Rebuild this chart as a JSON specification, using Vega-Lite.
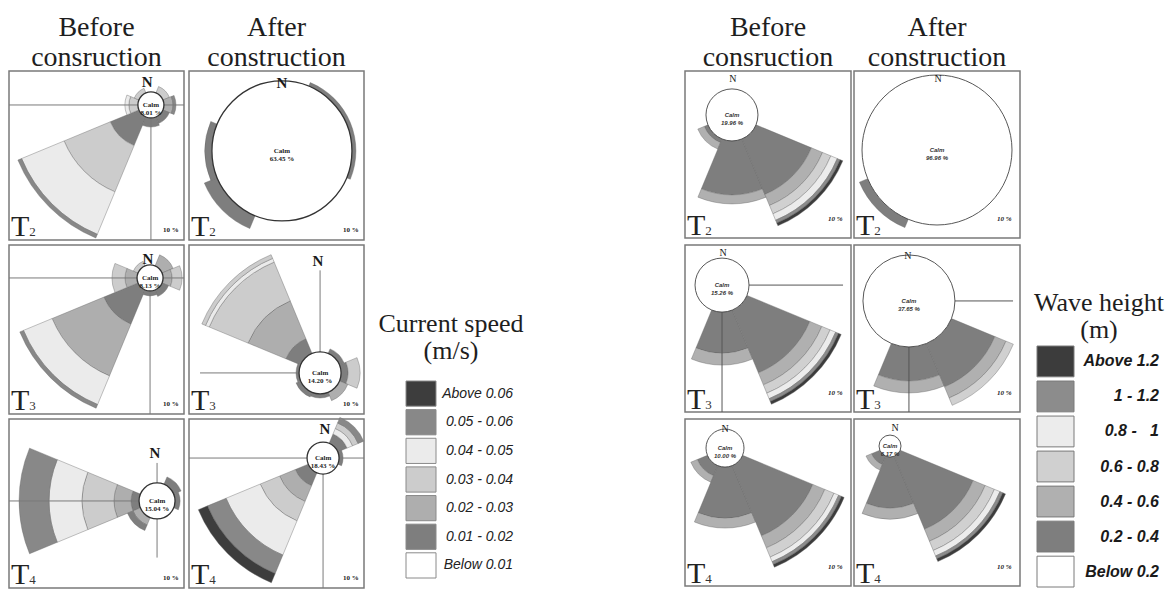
{
  "$schema": "https://vega.github.io/schema/vega-lite/v6.json",
  "background": "white",
  "padding": {"left": 7, "top": 14, "right": 0, "bottom": 0},
  "spacing": 0,
  "config": {"view": {"stroke": "#7a7a7a", "strokeWidth": 1.5}, "font": "Liberation Serif"},
  "resolve": {"scale": {"color": "independent", "fill": "independent"}},
  "datasets": {
    "panels": [
      {"panel": "L1", "col": "Before consruction", "row": "T₂", "sub": "2", "cx": 81.1, "cy": 20.1, "nx": 78.9, "ny": 6.5, "hx0": 0, "hx1": 100, "vy0": 20.1, "vy1": 100, "calm": "Calm\n8.01 %"},
      {"panel": "L2", "col": "After construction", "row": "T₂", "sub": "2", "cx": 53.1, "cy": 47.3, "nx": 53.1, "ny": 7.1, "hx0": null, "hx1": null, "vy0": null, "vy1": null, "calm": "Calm\n63.45 %"},
      {"panel": "L3", "col": "Before consruction", "row": "T₃", "sub": "3", "cx": 80.6, "cy": 19.5, "nx": 79.4, "ny": 8.3, "hx0": 0, "hx1": 100, "vy0": 19.5, "vy1": 100, "calm": "Calm\n8.13 %"},
      {"panel": "L4", "col": "After construction", "row": "T₃", "sub": "3", "cx": 74.9, "cy": 75.7, "nx": 73.7, "ny": 9.5, "hx0": 6.3, "hx1": 74.9, "vy0": 15, "vy1": 75.7, "calm": "Calm\n14.20 %"},
      {"panel": "L5", "col": "Before consruction", "row": "T₄", "sub": "4", "cx": 84.6, "cy": 48.5, "nx": 83.4, "ny": 20.1, "hx0": 0, "hx1": 84.6, "vy0": 26, "vy1": 82, "calm": "Calm\n15.04 %"},
      {"panel": "L6", "col": "After construction", "row": "T₄", "sub": "4", "cx": 76.6, "cy": 23.1, "nx": 77.7, "ny": 5.9, "hx0": 0, "hx1": 100, "vy0": 23.1, "vy1": 100, "calm": "Calm\n18.43 %"},
      {"panel": "R1", "col": "Before consruction", "row": "T₂", "sub": "2", "cx": 28.3, "cy": 26.3, "nx": 28.9, "ny": 4.6, "hx0": null, "hx1": null, "vy0": null, "vy1": null, "calm": "Calm\n19.96 %"},
      {"panel": "R2", "col": "After construction", "row": "T₂", "sub": "2", "cx": 50, "cy": 47.3, "nx": 50.6, "ny": 4.8, "hx0": null, "hx1": null, "vy0": null, "vy1": null, "calm": "Calm\n96.96 %"},
      {"panel": "R3", "col": "Before consruction", "row": "T₃", "sub": "3", "cx": 22.3, "cy": 24.0, "nx": 22.9, "ny": 4.8, "hx0": 22.3, "hx1": 95.2, "vy0": 24, "vy1": 100, "calm": "Calm\n15.26 %"},
      {"panel": "R4", "col": "After construction", "row": "T₃", "sub": "3", "cx": 33.1, "cy": 33.5, "nx": 32.5, "ny": 6.6, "hx0": 33.1, "hx1": 95.8, "vy0": 33.5, "vy1": 100, "calm": "Calm\n37.65 %"},
      {"panel": "R5", "col": "Before consruction", "row": "T₄", "sub": "4", "cx": 24.1, "cy": 17.4, "nx": 24.1, "ny": 6.0, "hx0": null, "hx1": null, "vy0": null, "vy1": null, "calm": "Calm\n10.00 %"},
      {"panel": "R6", "col": "After construction", "row": "T₄", "sub": "4", "cx": 21.7, "cy": 16.2, "nx": 24.7, "ny": 5.4, "hx0": null, "hx1": null, "vy0": null, "vy1": null, "calm": "Calm\n6.17 %"}
    ],
    "roses": [
      {"panel": "L1", "kind": "calm", "t0": 0, "t1": 360, "r0": 0, "r1": 3.25},
      {"panel": "L1", "kind": "sector", "t0": 202.5, "t1": 247.5, "r0": 3.25, "r1": 11, "bin": "0.01 - 0.02"},
      {"panel": "L1", "kind": "sector", "t0": 202.5, "t1": 247.5, "r0": 11, "r1": 23.5, "bin": "0.03 - 0.04"},
      {"panel": "L1", "kind": "sector", "t0": 202.5, "t1": 247.5, "r0": 23.5, "r1": 35, "bin": "0.04 - 0.05"},
      {"panel": "L1", "kind": "sector", "t0": 202.5, "t1": 247.5, "r0": 35, "r1": 36, "bin": "0.05 - 0.06"},
      {"panel": "L1", "kind": "sector", "t0": 247.5, "t1": 292.5, "r0": 3.25, "r1": 5.5, "bin": "0.03 - 0.04"},
      {"panel": "L1", "kind": "sector", "t0": 247.5, "t1": 292.5, "r0": 5.5, "r1": 6.5, "bin": "0.04 - 0.05"},
      {"panel": "L1", "kind": "sector", "t0": 292.5, "t1": 337.5, "r0": 3.25, "r1": 4.5, "bin": "0.03 - 0.04"},
      {"panel": "L1", "kind": "sector", "t0": 22.5, "t1": 67.5, "r0": 3.25, "r1": 5, "bin": "0.03 - 0.04"},
      {"panel": "L1", "kind": "sector", "t0": 67.5, "t1": 112.5, "r0": 3.25, "r1": 5.5, "bin": "0.02 - 0.03"},
      {"panel": "L1", "kind": "sector", "t0": 67.5, "t1": 112.5, "r0": 5.5, "r1": 6.25, "bin": "0.05 - 0.06"},
      {"panel": "L1", "kind": "sector", "t0": 112.5, "t1": 157.5, "r0": 3.25, "r1": 5, "bin": "0.01 - 0.02"},
      {"panel": "L1", "kind": "sector", "t0": 157.5, "t1": 202.5, "r0": 3.25, "r1": 5.5, "bin": "0.01 - 0.02"},

      {"panel": "L2", "kind": "calm", "t0": 0, "t1": 360, "r0": 0, "r1": 17.5},
      {"panel": "L2", "kind": "sector", "t0": 202.5, "t1": 247.5, "r0": 17.5, "r1": 21, "bin": "0.01 - 0.02"},
      {"panel": "L2", "kind": "sector", "t0": 247.5, "t1": 292.5, "r0": 17.5, "r1": 19.25, "bin": "0.01 - 0.02"},
      {"panel": "L2", "kind": "sector", "t0": 22.5, "t1": 112.5, "r0": 17.5, "r1": 18.5, "bin": "0.01 - 0.02"},

      {"panel": "L3", "kind": "calm", "t0": 0, "t1": 360, "r0": 0, "r1": 3.25},
      {"panel": "L3", "kind": "sector", "t0": 202.5, "t1": 247.5, "r0": 3.25, "r1": 12.5, "bin": "0.01 - 0.02"},
      {"panel": "L3", "kind": "sector", "t0": 202.5, "t1": 247.5, "r0": 12.5, "r1": 26.5, "bin": "0.02 - 0.03"},
      {"panel": "L3", "kind": "sector", "t0": 202.5, "t1": 247.5, "r0": 26.5, "r1": 34.25, "bin": "0.04 - 0.05"},
      {"panel": "L3", "kind": "sector", "t0": 202.5, "t1": 247.5, "r0": 34.25, "r1": 35.25, "bin": "0.05 - 0.06"},
      {"panel": "L3", "kind": "sector", "t0": 247.5, "t1": 292.5, "r0": 3.25, "r1": 6.25, "bin": "0.02 - 0.03"},
      {"panel": "L3", "kind": "sector", "t0": 247.5, "t1": 292.5, "r0": 6.25, "r1": 9.5, "bin": "0.03 - 0.04"},
      {"panel": "L3", "kind": "sector", "t0": 292.5, "t1": 337.5, "r0": 3.25, "r1": 4.5, "bin": "0.03 - 0.04"},
      {"panel": "L3", "kind": "sector", "t0": 22.5, "t1": 67.5, "r0": 3.25, "r1": 6.25, "bin": "0.02 - 0.03"},
      {"panel": "L3", "kind": "sector", "t0": 67.5, "t1": 112.5, "r0": 3.25, "r1": 5.5, "bin": "0.02 - 0.03"},
      {"panel": "L3", "kind": "sector", "t0": 67.5, "t1": 112.5, "r0": 5.5, "r1": 8, "bin": "0.03 - 0.04"},
      {"panel": "L3", "kind": "sector", "t0": 112.5, "t1": 157.5, "r0": 3.25, "r1": 5, "bin": "0.01 - 0.02"},
      {"panel": "L3", "kind": "sector", "t0": 157.5, "t1": 202.5, "r0": 3.25, "r1": 4.5, "bin": "0.01 - 0.02"},

      {"panel": "L4", "kind": "calm", "t0": 0, "t1": 360, "r0": 0, "r1": 5.25},
      {"panel": "L4", "kind": "sector", "t0": 292.5, "t1": 337.5, "r0": 5.25, "r1": 9.25, "bin": "0.01 - 0.02"},
      {"panel": "L4", "kind": "sector", "t0": 292.5, "t1": 337.5, "r0": 9.25, "r1": 19.5, "bin": "0.02 - 0.03"},
      {"panel": "L4", "kind": "sector", "t0": 292.5, "t1": 337.5, "r0": 19.5, "r1": 30, "bin": "0.03 - 0.04"},
      {"panel": "L4", "kind": "sector", "t0": 292.5, "t1": 337.5, "r0": 30, "r1": 31, "bin": "0.04 - 0.05"},
      {"panel": "L4", "kind": "sector", "t0": 292.5, "t1": 337.5, "r0": 31, "r1": 32, "bin": "0.03 - 0.04"},
      {"panel": "L4", "kind": "sector", "t0": 67.5, "t1": 112.5, "r0": 5.25, "r1": 7, "bin": "0.01 - 0.02"},
      {"panel": "L4", "kind": "sector", "t0": 67.5, "t1": 112.5, "r0": 7, "r1": 10, "bin": "0.03 - 0.04"},
      {"panel": "L4", "kind": "sector", "t0": 112.5, "t1": 157.5, "r0": 5.25, "r1": 7.5, "bin": "0.02 - 0.03"},
      {"panel": "L4", "kind": "sector", "t0": 22.5, "t1": 67.5, "r0": 5.25, "r1": 6.5, "bin": "0.01 - 0.02"},
      {"panel": "L4", "kind": "sector", "t0": 157.5, "t1": 202.5, "r0": 5.25, "r1": 6.25, "bin": "0.01 - 0.02"},
      {"panel": "L4", "kind": "sector", "t0": 202.5, "t1": 247.5, "r0": 5.25, "r1": 6.5, "bin": "0.01 - 0.02"},
      {"panel": "L4", "kind": "sector", "t0": 247.5, "t1": 292.5, "r0": 5.25, "r1": 6, "bin": "0.01 - 0.02"},

      {"panel": "L5", "kind": "calm", "t0": 0, "t1": 360, "r0": 0, "r1": 4.5},
      {"panel": "L5", "kind": "sector", "t0": 247.5, "t1": 292.5, "r0": 4.5, "r1": 6.5, "bin": "0.01 - 0.02"},
      {"panel": "L5", "kind": "sector", "t0": 247.5, "t1": 292.5, "r0": 6.5, "r1": 10.75, "bin": "0.02 - 0.03"},
      {"panel": "L5", "kind": "sector", "t0": 247.5, "t1": 292.5, "r0": 10.75, "r1": 18.75, "bin": "0.03 - 0.04"},
      {"panel": "L5", "kind": "sector", "t0": 247.5, "t1": 292.5, "r0": 18.75, "r1": 27, "bin": "0.04 - 0.05"},
      {"panel": "L5", "kind": "sector", "t0": 247.5, "t1": 292.5, "r0": 27, "r1": 34.5, "bin": "0.05 - 0.06"},
      {"panel": "L5", "kind": "sector", "t0": 22.5, "t1": 67.5, "r0": 4.5, "r1": 6.5, "bin": "0.01 - 0.02"},
      {"panel": "L5", "kind": "sector", "t0": 67.5, "t1": 112.5, "r0": 4.5, "r1": 5.75, "bin": "0.01 - 0.02"},
      {"panel": "L5", "kind": "sector", "t0": 202.5, "t1": 247.5, "r0": 4.5, "r1": 6.5, "bin": "0.02 - 0.03"},
      {"panel": "L5", "kind": "sector", "t0": 202.5, "t1": 247.5, "r0": 6.5, "r1": 8, "bin": "0.01 - 0.02"},

      {"panel": "L6", "kind": "calm", "t0": 0, "t1": 360, "r0": 0, "r1": 4},
      {"panel": "L6", "kind": "sector", "t0": 202.5, "t1": 247.5, "r0": 4, "r1": 7.5, "bin": "0.01 - 0.02"},
      {"panel": "L6", "kind": "sector", "t0": 202.5, "t1": 247.5, "r0": 7.5, "r1": 11.75, "bin": "0.02 - 0.03"},
      {"panel": "L6", "kind": "sector", "t0": 202.5, "t1": 247.5, "r0": 11.75, "r1": 17, "bin": "0.03 - 0.04"},
      {"panel": "L6", "kind": "sector", "t0": 202.5, "t1": 247.5, "r0": 17, "r1": 26.25, "bin": "0.04 - 0.05"},
      {"panel": "L6", "kind": "sector", "t0": 202.5, "t1": 247.5, "r0": 26.25, "r1": 31.25, "bin": "0.05 - 0.06"},
      {"panel": "L6", "kind": "sector", "t0": 202.5, "t1": 247.5, "r0": 31.25, "r1": 33.75, "bin": "Above 0.06"},
      {"panel": "L6", "kind": "sector", "t0": 22.5, "t1": 67.5, "r0": 4, "r1": 6.5, "bin": "0.01 - 0.02"},
      {"panel": "L6", "kind": "sector", "t0": 22.5, "t1": 67.5, "r0": 6.5, "r1": 8, "bin": "0.04 - 0.05"},
      {"panel": "L6", "kind": "sector", "t0": 22.5, "t1": 67.5, "r0": 8, "r1": 9.5, "bin": "0.03 - 0.04"},
      {"panel": "L6", "kind": "sector", "t0": 22.5, "t1": 67.5, "r0": 9.5, "r1": 11, "bin": "0.05 - 0.06"},
      {"panel": "L6", "kind": "sector", "t0": 67.5, "t1": 112.5, "r0": 4, "r1": 5, "bin": "0.01 - 0.02"},

      {"panel": "R1", "kind": "calm", "t0": 0, "t1": 360, "r0": 0, "r1": 6.5},
      {"panel": "R1", "kind": "sector", "t0": 202.5, "t1": 247.5, "r0": 6.5, "r1": 7.5, "bin": "0.2 - 0.4"},
      {"panel": "R1", "kind": "sector", "t0": 202.5, "t1": 247.5, "r0": 7.5, "r1": 9.25, "bin": "0.4 - 0.6"},
      {"panel": "R1", "kind": "sector", "t0": 157.5, "t1": 202.5, "r0": 6.5, "r1": 20, "bin": "0.2 - 0.4"},
      {"panel": "R1", "kind": "sector", "t0": 157.5, "t1": 202.5, "r0": 20, "r1": 22.25, "bin": "0.4 - 0.6"},
      {"panel": "R1", "kind": "sector", "t0": 112.5, "t1": 157.5, "r0": 6.5, "r1": 21.5, "bin": "0.2 - 0.4"},
      {"panel": "R1", "kind": "sector", "t0": 112.5, "t1": 157.5, "r0": 21.5, "r1": 24.5, "bin": "0.4 - 0.6"},
      {"panel": "R1", "kind": "sector", "t0": 112.5, "t1": 157.5, "r0": 24.5, "r1": 26.75, "bin": "0.6 - 0.8"},
      {"panel": "R1", "kind": "sector", "t0": 112.5, "t1": 157.5, "r0": 26.75, "r1": 28.5, "bin": "0.8 - 1"},
      {"panel": "R1", "kind": "sector", "t0": 112.5, "t1": 157.5, "r0": 28.5, "r1": 29.25, "bin": "1 - 1.2"},
      {"panel": "R1", "kind": "sector", "t0": 112.5, "t1": 157.5, "r0": 29.25, "r1": 30, "bin": "Above 1.2"},

      {"panel": "R2", "kind": "calm", "t0": 0, "t1": 360, "r0": 0, "r1": 18.75},
      {"panel": "R2", "kind": "sector", "t0": 202.5, "t1": 247.5, "r0": 18.75, "r1": 21, "bin": "0.2 - 0.4"},

      {"panel": "R3", "kind": "calm", "t0": 0, "t1": 360, "r0": 0, "r1": 6.75},
      {"panel": "R3", "kind": "sector", "t0": 157.5, "t1": 202.5, "r0": 6.75, "r1": 17, "bin": "0.2 - 0.4"},
      {"panel": "R3", "kind": "sector", "t0": 157.5, "t1": 202.5, "r0": 17, "r1": 20, "bin": "0.4 - 0.6"},
      {"panel": "R3", "kind": "sector", "t0": 112.5, "t1": 157.5, "r0": 6.75, "r1": 23.75, "bin": "0.2 - 0.4"},
      {"panel": "R3", "kind": "sector", "t0": 112.5, "t1": 157.5, "r0": 23.75, "r1": 27, "bin": "0.4 - 0.6"},
      {"panel": "R3", "kind": "sector", "t0": 112.5, "t1": 157.5, "r0": 27, "r1": 29.25, "bin": "0.6 - 0.8"},
      {"panel": "R3", "kind": "sector", "t0": 112.5, "t1": 157.5, "r0": 29.25, "r1": 30.75, "bin": "0.8 - 1"},
      {"panel": "R3", "kind": "sector", "t0": 112.5, "t1": 157.5, "r0": 30.75, "r1": 31.5, "bin": "1 - 1.2"},
      {"panel": "R3", "kind": "sector", "t0": 112.5, "t1": 157.5, "r0": 31.5, "r1": 32.25, "bin": "Above 1.2"},

      {"panel": "R4", "kind": "calm", "t0": 0, "t1": 360, "r0": 0, "r1": 11.5},
      {"panel": "R4", "kind": "sector", "t0": 157.5, "t1": 202.5, "r0": 11.5, "r1": 20, "bin": "0.2 - 0.4"},
      {"panel": "R4", "kind": "sector", "t0": 157.5, "t1": 202.5, "r0": 20, "r1": 23, "bin": "0.4 - 0.6"},
      {"panel": "R4", "kind": "sector", "t0": 112.5, "t1": 157.5, "r0": 11.5, "r1": 23.25, "bin": "0.2 - 0.4"},
      {"panel": "R4", "kind": "sector", "t0": 112.5, "t1": 157.5, "r0": 23.25, "r1": 26.25, "bin": "0.4 - 0.6"},
      {"panel": "R4", "kind": "sector", "t0": 112.5, "t1": 157.5, "r0": 26.25, "r1": 28.25, "bin": "0.6 - 0.8"},

      {"panel": "R5", "kind": "calm", "t0": 0, "t1": 360, "r0": 0, "r1": 4.75},
      {"panel": "R5", "kind": "sector", "t0": 202.5, "t1": 247.5, "r0": 4.75, "r1": 7.5, "bin": "0.2 - 0.4"},
      {"panel": "R5", "kind": "sector", "t0": 202.5, "t1": 247.5, "r0": 7.5, "r1": 9.25, "bin": "0.4 - 0.6"},
      {"panel": "R5", "kind": "sector", "t0": 157.5, "t1": 202.5, "r0": 4.75, "r1": 17.5, "bin": "0.2 - 0.4"},
      {"panel": "R5", "kind": "sector", "t0": 157.5, "t1": 202.5, "r0": 17.5, "r1": 20, "bin": "0.4 - 0.6"},
      {"panel": "R5", "kind": "sector", "t0": 112.5, "t1": 157.5, "r0": 4.75, "r1": 23.75, "bin": "0.2 - 0.4"},
      {"panel": "R5", "kind": "sector", "t0": 112.5, "t1": 157.5, "r0": 23.75, "r1": 27, "bin": "0.4 - 0.6"},
      {"panel": "R5", "kind": "sector", "t0": 112.5, "t1": 157.5, "r0": 27, "r1": 29.5, "bin": "0.6 - 0.8"},
      {"panel": "R5", "kind": "sector", "t0": 112.5, "t1": 157.5, "r0": 29.5, "r1": 30.75, "bin": "0.8 - 1"},
      {"panel": "R5", "kind": "sector", "t0": 112.5, "t1": 157.5, "r0": 30.75, "r1": 31.5, "bin": "1 - 1.2"},
      {"panel": "R5", "kind": "sector", "t0": 112.5, "t1": 157.5, "r0": 31.5, "r1": 32.25, "bin": "Above 1.2"},

      {"panel": "R6", "kind": "calm", "t0": 0, "t1": 360, "r0": 0, "r1": 2.75},
      {"panel": "R6", "kind": "sector", "t0": 202.5, "t1": 247.5, "r0": 2.75, "r1": 5, "bin": "0.2 - 0.4"},
      {"panel": "R6", "kind": "sector", "t0": 202.5, "t1": 247.5, "r0": 5, "r1": 6.5, "bin": "0.4 - 0.6"},
      {"panel": "R6", "kind": "sector", "t0": 157.5, "t1": 202.5, "r0": 2.75, "r1": 15.5, "bin": "0.2 - 0.4"},
      {"panel": "R6", "kind": "sector", "t0": 157.5, "t1": 202.5, "r0": 15.5, "r1": 18.25, "bin": "0.4 - 0.6"},
      {"panel": "R6", "kind": "sector", "t0": 112.5, "t1": 157.5, "r0": 2.75, "r1": 22.5, "bin": "0.2 - 0.4"},
      {"panel": "R6", "kind": "sector", "t0": 112.5, "t1": 157.5, "r0": 22.5, "r1": 25.75, "bin": "0.4 - 0.6"},
      {"panel": "R6", "kind": "sector", "t0": 112.5, "t1": 157.5, "r0": 25.75, "r1": 28.25, "bin": "0.6 - 0.8"},
      {"panel": "R6", "kind": "sector", "t0": 112.5, "t1": 157.5, "r0": 28.25, "r1": 29.75, "bin": "0.8 - 1"},
      {"panel": "R6", "kind": "sector", "t0": 112.5, "t1": 157.5, "r0": 29.75, "r1": 30.5, "bin": "1 - 1.2"},
      {"panel": "R6", "kind": "sector", "t0": 112.5, "t1": 157.5, "r0": 30.5, "r1": 31.25, "bin": "Above 1.2"}
    ],
    "legendCurrent": [
      {"bin": "Above 0.06", "label": "Above 0.06"},
      {"bin": "0.05 - 0.06", "label": "0.05 - 0.06"},
      {"bin": "0.04 - 0.05", "label": "0.04 - 0.05"},
      {"bin": "0.03 - 0.04", "label": "0.03 - 0.04"},
      {"bin": "0.02 - 0.03", "label": "0.02 - 0.03"},
      {"bin": "0.01 - 0.02", "label": "0.01 - 0.02"},
      {"bin": "Below 0.01", "label": "Below 0.01"}
    ],
    "legendWave": [
      {"bin": "Above 1.2", "label": "Above 1.2"},
      {"bin": "1 - 1.2", "label": "1 - 1.2"},
      {"bin": "0.8 - 1", "label": "0.8 -\u00a0\u00a0\u00a01"},
      {"bin": "0.6 - 0.8", "label": "0.6 - 0.8"},
      {"bin": "0.4 - 0.6", "label": "0.4 - 0.6"},
      {"bin": "0.2 - 0.4", "label": "0.2 - 0.4"},
      {"bin": "Below 0.2", "label": "Below 0.2"}
    ]
  },
  "hconcat": [
    {
      "data": {"name": "roses"},
      "transform": [
        {"filter": "indexof(datum.panel, 'L') == 0"},
        {"lookup": "panel", "from": {"data": {"name": "panels"}, "key": "panel", "fields": ["col", "row", "sub", "cx", "cy", "nx", "ny", "hx0", "hx1", "vy0", "vy1", "calm"]}}
      ],
      "facet": {
        "column": {"field": "col", "type": "nominal", "sort": ["Before consruction", "After construction"], "title": null,
          "header": {"labelExpr": "split(datum.value, ' ')", "labelFont": "Liberation Serif", "labelFontSize": 28, "labelColor": "#1e1e1e", "labelLineHeight": 30, "labelPadding": -1}},
        "row": {"field": "row", "type": "nominal", "sort": ["T₂", "T₃", "T₄"], "header": null}
      },
      "bounds": "flush",
      "spacing": {"row": 5, "column": 5},
      "spec": {
        "width": 175,
        "height": 169,
        "layer": [
          {
            "transform": [{"filter": "datum.kind == 'sector'"}],
            "mark": {"type": "arc", "stroke": "#666666", "strokeWidth": 0.4},
            "encoding": {
              "x": {"field": "cx", "type": "quantitative", "scale": {"domain": [0, 100], "nice": false, "zero": false}, "axis": null},
              "y": {"field": "cy", "type": "quantitative", "scale": {"domain": [0, 100], "nice": false, "zero": false, "reverse": true}, "axis": null},
              "theta": {"field": "t0", "type": "quantitative", "stack": null, "scale": {"domain": [0, 360], "range": [0, 6.283185307179586]}},
              "theta2": {"field": "t1"},
              "radius": {"field": "r1", "type": "quantitative", "scale": {"type": "linear", "domain": [0, 40], "range": [0, 160], "zero": true}},
              "radius2": {"field": "r0"},
              "color": {"field": "bin", "type": "nominal", "legend": null,
                "scale": {"domain": ["Above 0.06", "0.05 - 0.06", "0.04 - 0.05", "0.03 - 0.04", "0.02 - 0.03", "0.01 - 0.02", "Below 0.01"],
                          "range": ["#3d3d3d", "#888888", "#ebebeb", "#cccccc", "#aeaeae", "#7e7e7e", "#ffffff"]}}
            }
          },
          {
            "transform": [{"filter": "datum.kind == 'calm' && isValid(datum.hx0)"}],
            "mark": {"type": "rule", "color": "#7a7a7a", "strokeWidth": 1},
            "encoding": {
              "x": {"field": "hx0", "type": "quantitative", "axis": null},
              "x2": {"field": "hx1"},
              "y": {"field": "cy", "type": "quantitative", "axis": null}
            }
          },
          {
            "transform": [{"filter": "datum.kind == 'calm' && isValid(datum.vy0)"}],
            "mark": {"type": "rule", "color": "#7a7a7a", "strokeWidth": 1},
            "encoding": {
              "x": {"field": "cx", "type": "quantitative", "axis": null},
              "y": {"field": "vy0", "type": "quantitative", "axis": null},
              "y2": {"field": "vy1"}
            }
          },
          {
            "transform": [{"filter": "datum.kind == 'calm'"}],
            "mark": {"type": "arc", "fill": "white", "stroke": "#333333", "strokeWidth": 1.3},
            "encoding": {
              "x": {"field": "cx", "type": "quantitative", "axis": null},
              "y": {"field": "cy", "type": "quantitative", "axis": null},
              "theta": {"field": "t0", "type": "quantitative", "stack": null},
              "theta2": {"field": "t1"},
              "radius": {"field": "r1", "type": "quantitative"},
              "radius2": {"field": "r0"}
            }
          },
          {
            "transform": [{"filter": "datum.kind == 'calm'"}],
            "mark": {"type": "text", "text": "N", "font": "Liberation Serif", "fontWeight": "bold", "fontSize": 15, "baseline": "middle", "color": "#1a1a1a"},
            "encoding": {
              "x": {"field": "nx", "type": "quantitative", "axis": null},
              "y": {"field": "ny", "type": "quantitative", "axis": null}
            }
          },
          {
            "transform": [{"filter": "datum.kind == 'calm'"}],
            "mark": {"type": "text", "lineBreak": "\n", "font": "Liberation Serif", "fontWeight": "bold", "fontSize": 7, "lineHeight": 8, "baseline": "middle", "color": "#222222"},
            "encoding": {
              "x": {"field": "cx", "type": "quantitative", "axis": null},
              "y": {"field": "cy", "type": "quantitative", "axis": null},
              "text": {"field": "calm"}
            }
          },
          {
            "transform": [{"filter": "datum.kind == 'calm'"}],
            "mark": {"type": "text", "text": "T", "font": "Liberation Serif", "fontSize": 30, "align": "left", "baseline": "alphabetic", "color": "#222222"},
            "encoding": {
              "x": {"datum": 1.2, "type": "quantitative", "axis": null},
              "y": {"datum": 97.5, "type": "quantitative", "axis": null}
            }
          },
          {
            "transform": [{"filter": "datum.kind == 'calm'"}],
            "mark": {"type": "text", "font": "Liberation Serif", "fontSize": 13, "align": "left", "baseline": "alphabetic", "color": "#333333"},
            "encoding": {
              "x": {"datum": 11.6, "type": "quantitative", "axis": null},
              "y": {"datum": 97.5, "type": "quantitative", "axis": null},
              "text": {"field": "sub"}
            }
          },
          {
            "transform": [{"filter": "datum.kind == 'calm'"}],
            "mark": {"type": "text", "text": "10 %", "font": "Liberation Serif", "fontWeight": "bold", "fontSize": 7, "align": "right", "baseline": "alphabetic", "color": "#222222"},
            "encoding": {
              "x": {"datum": 97, "type": "quantitative", "axis": null},
              "y": {"datum": 95, "type": "quantitative", "axis": null}
            }
          }
        ]
      }
    },
    {
      "width": 318,
      "height": 510,
      "view": {"stroke": null},
      "resolve": {"scale": {"x": "independent", "y": "independent"}},
      "layer": [
        {
          "data": {"name": "legendCurrent"},
          "layer": [
            {
              "mark": {"type": "rect", "width": 30, "stroke": "#8a8a8a", "strokeWidth": 1},
              "encoding": {
                "x": {"datum": "swatch", "type": "nominal", "scale": {"type": "point", "domain": ["swatch", "label"], "range": [55, 147], "padding": 0}, "axis": null},
                "y": {"field": "bin", "type": "nominal", "sort": null, "scale": {"type": "band", "domain": ["Above 0.06", "0.05 - 0.06", "0.04 - 0.05", "0.03 - 0.04", "0.02 - 0.03", "0.01 - 0.02", "Below 0.01"], "range": [310, 507], "paddingInner": 0.12, "paddingOuter": 0}, "axis": null},
                "fill": {"field": "bin", "type": "nominal", "legend": null,
                  "scale": {"domain": ["Above 0.06", "0.05 - 0.06", "0.04 - 0.05", "0.03 - 0.04", "0.02 - 0.03", "0.01 - 0.02", "Below 0.01"],
                            "range": ["#3d3d3d", "#888888", "#ebebeb", "#cccccc", "#aeaeae", "#7e7e7e", "#ffffff"]}}
              }
            },
            {
              "mark": {"type": "text", "align": "right", "baseline": "middle", "font": "Liberation Sans", "fontStyle": "italic", "fontSize": 14, "color": "#222222"},
              "encoding": {
                "x": {"datum": "label", "type": "nominal", "axis": null},
                "y": {"field": "bin", "type": "nominal", "sort": null, "axis": null},
                "text": {"field": "label"}
              }
            }
          ]
        },
        {
          "data": {"values": [{"title": "Current speed\n(m/s)"}]},
          "mark": {"type": "text", "lineBreak": "\n", "align": "center", "baseline": "alphabetic", "font": "Liberation Serif", "fontSize": 26, "lineHeight": 27, "color": "#1e1e1e"},
          "encoding": {
            "x": {"datum": "t", "type": "nominal", "scale": {"type": "point", "domain": ["t"], "range": [85, 85], "padding": 0}, "axis": null},
            "y": {"datum": "t", "type": "nominal", "scale": {"type": "point", "domain": ["t"], "range": [261, 261], "padding": 0}, "axis": null},
            "text": {"field": "title"}
          }
        }
      ]
    },
    {
      "data": {"name": "roses"},
      "transform": [
        {"filter": "indexof(datum.panel, 'R') == 0"},
        {"lookup": "panel", "from": {"data": {"name": "panels"}, "key": "panel", "fields": ["col", "row", "sub", "cx", "cy", "nx", "ny", "hx0", "hx1", "vy0", "vy1", "calm"]}}
      ],
      "facet": {
        "column": {"field": "col", "type": "nominal", "sort": ["Before consruction", "After construction"], "title": null,
          "header": {"labelExpr": "split(datum.value, ' ')", "labelFont": "Liberation Serif", "labelFontSize": 28, "labelColor": "#1e1e1e", "labelLineHeight": 30, "labelPadding": -1}},
        "row": {"field": "row", "type": "nominal", "sort": ["T₂", "T₃", "T₄"], "header": null}
      },
      "bounds": "flush",
      "spacing": {"row": 7, "column": 3},
      "spec": {
        "width": 166,
        "height": 167,
        "layer": [
          {
            "transform": [{"filter": "datum.kind == 'sector'"}],
            "mark": {"type": "arc", "stroke": "#666666", "strokeWidth": 0.4},
            "encoding": {
              "x": {"field": "cx", "type": "quantitative", "scale": {"domain": [0, 100], "nice": false, "zero": false}, "axis": null},
              "y": {"field": "cy", "type": "quantitative", "scale": {"domain": [0, 100], "nice": false, "zero": false, "reverse": true}, "axis": null},
              "theta": {"field": "t0", "type": "quantitative", "stack": null, "scale": {"domain": [0, 360], "range": [0, 6.283185307179586]}},
              "theta2": {"field": "t1"},
              "radius": {"field": "r1", "type": "quantitative", "scale": {"type": "linear", "domain": [0, 40], "range": [0, 160], "zero": true}},
              "radius2": {"field": "r0"},
              "color": {"field": "bin", "type": "nominal", "legend": null,
                "scale": {"domain": ["Above 1.2", "1 - 1.2", "0.8 - 1", "0.6 - 0.8", "0.4 - 0.6", "0.2 - 0.4", "Below 0.2"],
                          "range": ["#3c3c3c", "#8c8c8c", "#ececec", "#d0d0d0", "#b0b0b0", "#7e7e7e", "#ffffff"]}}
            }
          },
          {
            "transform": [{"filter": "datum.kind == 'calm' && isValid(datum.hx0)"}],
            "mark": {"type": "rule", "color": "#555555", "strokeWidth": 1},
            "encoding": {
              "x": {"field": "hx0", "type": "quantitative", "axis": null},
              "x2": {"field": "hx1"},
              "y": {"field": "cy", "type": "quantitative", "axis": null}
            }
          },
          {
            "transform": [{"filter": "datum.kind == 'calm' && isValid(datum.vy0)"}],
            "mark": {"type": "rule", "color": "#555555", "strokeWidth": 1},
            "encoding": {
              "x": {"field": "cx", "type": "quantitative", "axis": null},
              "y": {"field": "vy0", "type": "quantitative", "axis": null},
              "y2": {"field": "vy1"}
            }
          },
          {
            "transform": [{"filter": "datum.kind == 'calm'"}],
            "mark": {"type": "arc", "fill": "white", "stroke": "#444444", "strokeWidth": 0.9},
            "encoding": {
              "x": {"field": "cx", "type": "quantitative", "axis": null},
              "y": {"field": "cy", "type": "quantitative", "axis": null},
              "theta": {"field": "t0", "type": "quantitative", "stack": null},
              "theta2": {"field": "t1"},
              "radius": {"field": "r1", "type": "quantitative"},
              "radius2": {"field": "r0"}
            }
          },
          {
            "transform": [{"filter": "datum.kind == 'calm'"}],
            "mark": {"type": "text", "text": "N", "font": "Liberation Serif", "fontSize": 10, "baseline": "middle", "color": "#1a1a1a"},
            "encoding": {
              "x": {"field": "nx", "type": "quantitative", "axis": null},
              "y": {"field": "ny", "type": "quantitative", "axis": null}
            }
          },
          {
            "transform": [{"filter": "datum.kind == 'calm'"}],
            "mark": {"type": "text", "lineBreak": "\n", "font": "Liberation Sans", "fontStyle": "italic", "fontWeight": "bold", "fontSize": 6, "lineHeight": 8, "baseline": "middle", "color": "#333333"},
            "encoding": {
              "x": {"field": "cx", "type": "quantitative", "axis": null},
              "y": {"field": "cy", "type": "quantitative", "axis": null},
              "text": {"field": "calm"}
            }
          },
          {
            "transform": [{"filter": "datum.kind == 'calm'"}],
            "mark": {"type": "text", "text": "T", "font": "Liberation Serif", "fontSize": 30, "align": "left", "baseline": "alphabetic", "color": "#222222"},
            "encoding": {
              "x": {"datum": 1.2, "type": "quantitative", "axis": null},
              "y": {"datum": 98, "type": "quantitative", "axis": null}
            }
          },
          {
            "transform": [{"filter": "datum.kind == 'calm'"}],
            "mark": {"type": "text", "font": "Liberation Serif", "fontSize": 13, "align": "left", "baseline": "alphabetic", "color": "#333333"},
            "encoding": {
              "x": {"datum": 12.2, "type": "quantitative", "axis": null},
              "y": {"datum": 98, "type": "quantitative", "axis": null},
              "text": {"field": "sub"}
            }
          },
          {
            "transform": [{"filter": "datum.kind == 'calm'"}],
            "mark": {"type": "text", "text": "10 %", "font": "Liberation Serif", "fontWeight": "bold", "fontStyle": "italic", "fontSize": 7, "align": "right", "baseline": "alphabetic", "color": "#222222"},
            "encoding": {
              "x": {"datum": 95, "type": "quantitative", "axis": null},
              "y": {"datum": 90, "type": "quantitative", "axis": null}
            }
          }
        ]
      }
    },
    {
      "width": 152,
      "height": 510,
      "view": {"stroke": null},
      "resolve": {"scale": {"x": "independent", "y": "independent"}},
      "layer": [
        {
          "data": {"name": "legendWave"},
          "layer": [
            {
              "mark": {"type": "rect", "width": 37, "stroke": "#7a7a7a", "strokeWidth": 1},
              "encoding": {
                "x": {"datum": "swatch", "type": "nominal", "scale": {"type": "point", "domain": ["swatch", "label"], "range": [34.5, 138], "padding": 0}, "axis": null},
                "y": {"field": "bin", "type": "nominal", "sort": null, "scale": {"type": "band", "domain": ["Above 1.2", "1 - 1.2", "0.8 - 1", "0.6 - 0.8", "0.4 - 0.6", "0.2 - 0.4", "Below 0.2"], "range": [275, 516], "paddingInner": 0.12, "paddingOuter": 0}, "axis": null},
                "fill": {"field": "bin", "type": "nominal", "legend": null,
                  "scale": {"domain": ["Above 1.2", "1 - 1.2", "0.8 - 1", "0.6 - 0.8", "0.4 - 0.6", "0.2 - 0.4", "Below 0.2"],
                            "range": ["#3c3c3c", "#8c8c8c", "#ececec", "#d0d0d0", "#b0b0b0", "#7e7e7e", "#ffffff"]}}
              }
            },
            {
              "mark": {"type": "text", "align": "right", "baseline": "middle", "font": "Liberation Sans", "fontStyle": "italic", "fontWeight": "bold", "fontSize": 16, "color": "#1a1a1a"},
              "encoding": {
                "x": {"datum": "label", "type": "nominal", "axis": null},
                "y": {"field": "bin", "type": "nominal", "sort": null, "axis": null},
                "text": {"field": "label"}
              }
            }
          ]
        },
        {
          "data": {"values": [{"title": "Wave height\n(m)"}]},
          "mark": {"type": "text", "lineBreak": "\n", "align": "center", "baseline": "alphabetic", "font": "Liberation Serif", "fontSize": 26, "lineHeight": 27, "color": "#1e1e1e"},
          "encoding": {
            "x": {"datum": "t", "type": "nominal", "scale": {"type": "point", "domain": ["t"], "range": [78, 78], "padding": 0}, "axis": null},
            "y": {"datum": "t", "type": "nominal", "scale": {"type": "point", "domain": ["t"], "range": [240, 240], "padding": 0}, "axis": null},
            "text": {"field": "title"}
          }
        }
      ]
    }
  ]
}
